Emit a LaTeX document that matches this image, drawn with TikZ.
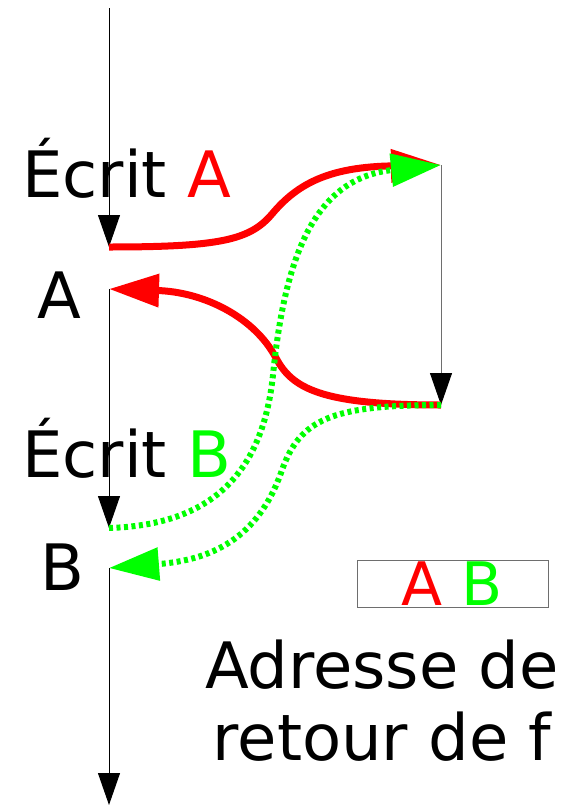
\documentclass[tikz,border=0pt]{standalone}
\usepackage{fontspec}
\setmainfont{DejaVu Sans}
\usetikzlibrary{arrows.meta}
\definecolor{pred}{RGB}{255,0,0}
\definecolor{pgreen}{RGB}{0,255,0}
\definecolor{pgray}{RGB}{110,110,110}
\tikzset{
  flow/.style={line width=1pt,-{Triangle[length=32pt,width=22pt,color=black,fill=black]}},
  redpath/.style={draw=pred,line width=7pt,-{Triangle[length=50pt,width=32pt,fill=pred]}},
  greenpath/.style={draw=pgreen,line width=6pt,dash pattern=on 4pt off 3.5pt,-{Triangle[length=50pt,width=32pt,fill=pgreen]}},
  lbl/.style={inner sep=0pt,anchor=base west,font=\fontsize{64pt}{72pt}\selectfont},
  big/.style={inner sep=0pt,anchor=base,font=\fontsize{64pt}{72pt}\selectfont},
}
\begin{document}
\begin{tikzpicture}[x=1pt,y=-1pt]
\useasboundingbox (0,0) rectangle (579,806);
\coordinate (t0) at (109,8);
\coordinate (a1) at (109,247);
\coordinate (a2) at (109,289);
\coordinate (b1) at (109,528);
\coordinate (b2) at (109,568);
\coordinate (bot) at (109,805);
\coordinate (r1) at (441,165);
\coordinate (r2) at (441,405);
% black flow
\draw[flow] (t0) -- (a1);
\draw[flow] (a2) -- (b1);
\draw[flow] (b2) -- (bot);
\draw[flow,draw=pgray] (r1) -- (r2);
% labels
\node[lbl] (ea) at (22,197) {Écrit \textcolor{pred}{A}};
\node[lbl] (la) at (37,318) {A};
\node[lbl] (eb) at (22,477) {Écrit \textcolor{pgreen}{B}};
\node[lbl] (lb) at (40,590) {B};
% red curves
\draw[redpath] (a1) .. controls (220,247) and (250,240) .. (272,214) .. controls (298,183) and (330,167) .. (r1);
\draw[redpath] (r2) .. controls (320,405) and (292,388) .. (276,358) .. controls (255,318) and (205,292) .. (a2);
% green curves
\draw[greenpath] (b1) .. controls (205,525) and (262,480) .. (273,375) .. controls (285,255) and (315,178) .. (r1);
\draw[greenpath] (r2) .. controls (330,405) and (300,420) .. (282,470) .. controls (258,540) and (210,560) .. (b2);
% box
\node[draw=pgray,line width=1pt,minimum width=191pt,minimum height=47pt,inner sep=0pt] (box) at (452.5,583.5) {};
\node[inner sep=0pt,anchor=base,font=\fontsize{60pt}{72pt}\selectfont] (boxtxt) at (452,605) {\textcolor{pred}{A} \textcolor{pgreen}{B}};
\node[big] (ret1) at (382,688) {Adresse de};
\node[big] (ret2) at (382,760) {retour de f};
\end{tikzpicture}
\end{document}
